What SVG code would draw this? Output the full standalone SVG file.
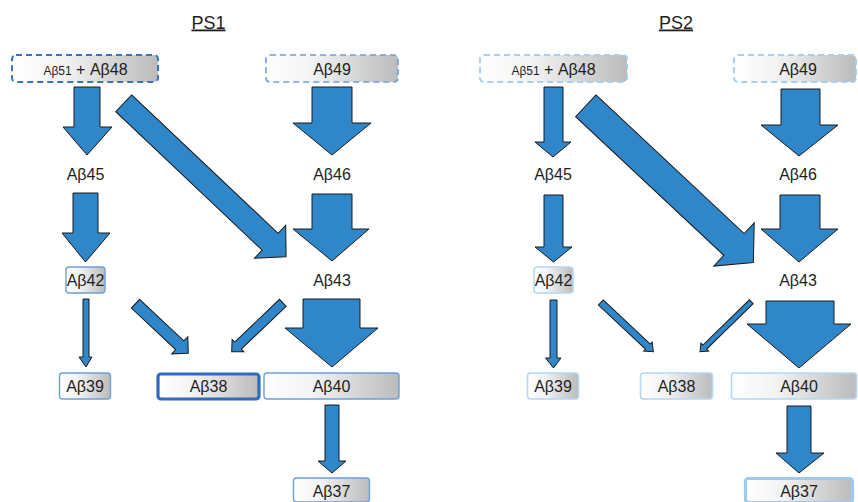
<svg xmlns="http://www.w3.org/2000/svg" width="858" height="502" viewBox="0 0 858 502">
<style>
text{font-family:"Liberation Sans","Open Sans",sans-serif;fill:#1e1e1e;text-anchor:middle;font-size:16px}
.title{font-size:18px;text-decoration:underline}
.sm{font-size:12px}
.arr{fill:#2f87c9;stroke:#1a1a1a;stroke-width:1;stroke-linejoin:miter}
.box{fill:url(#g)}
.d1{stroke:#3a72c2;stroke-width:2;stroke-dasharray:6 4}
.d1l{stroke:#6f9fd9;stroke-width:1.6;stroke-dasharray:6 4}
.d2{stroke:#a5d0f0;stroke-width:2;stroke-dasharray:6 4}
.b1{stroke:#6f9fd9;stroke-width:1.4}
.b1t{stroke:#2f6bbf;stroke-width:3.2}
.b2{stroke:#b3d8f3;stroke-width:1.6}
.b2t{stroke:#9ccbee;stroke-width:3.2}
</style>
<defs>
<linearGradient id="g" x1="0" y1="0" x2="1" y2="0">
<stop offset="0" stop-color="#ffffff"/>
<stop offset="0.35" stop-color="#f3f3f3"/>
<stop offset="1" stop-color="#bbbbbb"/>
</linearGradient>
</defs>
<rect width="858" height="502" fill="#ffffff"/>

<text class="title" x="208.5" y="28.5">PS1</text>
<text class="title" x="676" y="28.5">PS2</text>

<g id="connectors">
<!-- PS1 vertical -->
<polygon class="arr" points="74,87 100,87 100,127 112,127 87,155 63,127 74,127"/>
<polygon class="arr" points="73,193 98,193 98,233 110,233 85.5,262 62,233 73,233"/>
<polygon class="arr" points="83,299 89,299 89,357 92,357 86,367 79,357 83,357"/>
<polygon class="arr" points="312,87 352,87 352,123 371,123 332,155 293,123 312,123"/>
<polygon class="arr" points="312,194 352,194 352,229 369,229 332,261 293,229 312,229"/>
<polygon class="arr" points="303,299 360,299 360,328 378,328 332,367 285,328 303,328"/>
<polygon class="arr" points="325,405 339,405 339,461 346,461 332,473 318,461 325,461"/>
<!-- PS1 diagonal -->
<polygon class="arr" transform="translate(123.7,103.3) rotate(43.4)" points="0,-11.6 201.5,-11.6 201.5,-22.7 223.5,0 201.5,22.7 201.5,11.6 0,11.6"/>
<polygon class="arr" transform="translate(135.5,303.7) rotate(43.2)" points="0,-6 60.7,-6 60.7,-11.8 72.4,0 60.7,11.8 60.7,6 0,6"/>
<polygon class="arr" transform="translate(282.8,302.8) rotate(136.3)" points="0,-4.8 62,-4.8 62,-8.5 70.7,0 62,8.5 62,4.8 0,4.8"/>
<!-- PS2 vertical -->
<polygon class="arr" points="544,87 563,87 563,142 571,142 553,157 535,142 544,142"/>
<polygon class="arr" points="544,195 563,195 563,247 572,247 553.5,262 535,247 544,247"/>
<polygon class="arr" points="550,300 557,300 557,358 561,358 553.5,368 545.5,358 550,358"/>
<polygon class="arr" points="781,89 820,89 820,125 838,125 799,156 761,125 781,125"/>
<polygon class="arr" points="780,195 820,195 820,229 838,229 799,262 761,229 780,229"/>
<polygon class="arr" points="766,301 834,301 834,324 851,324 799,368 747,324 766,324"/>
<polygon class="arr" points="787,406 811,406 811,453 824,453 799,473 776,453 787,453"/>
<!-- PS2 diagonal -->
<polygon class="arr" transform="translate(585.8,105.8) rotate(43.1)" points="0,-14.9 203,-14.9 203,-29.6 229.5,0 203,29.6 203,14.9 0,14.9"/>
<polygon class="arr" transform="translate(600.8,302.5) rotate(43.1)" points="0,-3.5 64.5,-3.5 64.5,-6.2 72,0 64.5,6.2 64.5,3.5 0,3.5"/>
<polygon class="arr" transform="translate(751.3,301.7) rotate(135.7)" points="0,-2.7 65,-2.7 65,-5.6 71.6,0 65,5.6 65,2.7 0,2.7"/>
</g>

<!-- PS1 nodes -->
<g id="ps1-ab51-ab48">
<rect class="box d1" x="12" y="55" width="146" height="27" rx="4"/>
<text x="85.5" y="75"><tspan class="sm">Aβ51</tspan> + Aβ48</text>
</g>
<g id="ps1-ab49">
<rect class="box d1l" x="266" y="55" width="132" height="27" rx="4"/>
<text x="332" y="75">Aβ49</text>
</g>
<g id="ps1-ab45"><text x="85.5" y="180">Aβ45</text></g>
<g id="ps1-ab46"><text x="332" y="180">Aβ46</text></g>
<g id="ps1-ab42">
<rect class="box b1" x="66" y="267" width="39" height="26" rx="3"/>
<text x="85.5" y="286">Aβ42</text>
</g>
<g id="ps1-ab43"><text x="332" y="286">Aβ43</text></g>
<g id="ps1-ab39">
<rect class="box b1" x="59.5" y="373" width="51" height="26" rx="3"/>
<text x="85" y="392">Aβ39</text>
</g>
<g id="ps1-ab38">
<rect class="box b1t" x="158" y="374" width="101" height="25" rx="3"/>
<text x="208.5" y="392">Aβ38</text>
</g>
<g id="ps1-ab40">
<rect class="box b1" x="264" y="373" width="135" height="26" rx="3"/>
<text x="331.5" y="392">Aβ40</text>
</g>
<g id="ps1-ab37">
<rect class="box b1" x="293.5" y="478" width="76" height="24" rx="3"/>
<text x="331.5" y="497">Aβ37</text>
</g>

<!-- PS2 nodes -->
<g id="ps2-ab51-ab48">
<rect class="box d2" x="480" y="55" width="147" height="27" rx="4"/>
<text x="553.5" y="75"><tspan class="sm">Aβ51</tspan> + Aβ48</text>
</g>
<g id="ps2-ab49">
<rect class="box d2" x="734" y="55" width="122" height="27" rx="4"/>
<text x="798" y="75">Aβ49</text>
</g>
<g id="ps2-ab45"><text x="553" y="180">Aβ45</text></g>
<g id="ps2-ab46"><text x="798" y="180">Aβ46</text></g>
<g id="ps2-ab42">
<rect class="box b2" x="534" y="267" width="39" height="26" rx="3"/>
<text x="553.5" y="286">Aβ42</text>
</g>
<g id="ps2-ab43"><text x="798" y="286">Aβ43</text></g>
<g id="ps2-ab39">
<rect class="box b2" x="527.5" y="373" width="51" height="26" rx="3"/>
<text x="553" y="392">Aβ39</text>
</g>
<g id="ps2-ab38">
<rect class="box b2" x="640.5" y="373" width="72" height="26" rx="3"/>
<text x="676.5" y="392">Aβ38</text>
</g>
<g id="ps2-ab40">
<rect class="box b2" x="731.5" y="373" width="125" height="26" rx="3"/>
<text x="799" y="392">Aβ40</text>
</g>
<g id="ps2-ab37">
<rect class="box b2t" x="745.5" y="478.5" width="107" height="24" rx="3"/>
<text x="799" y="497">Aβ37</text>
</g>
</svg>
